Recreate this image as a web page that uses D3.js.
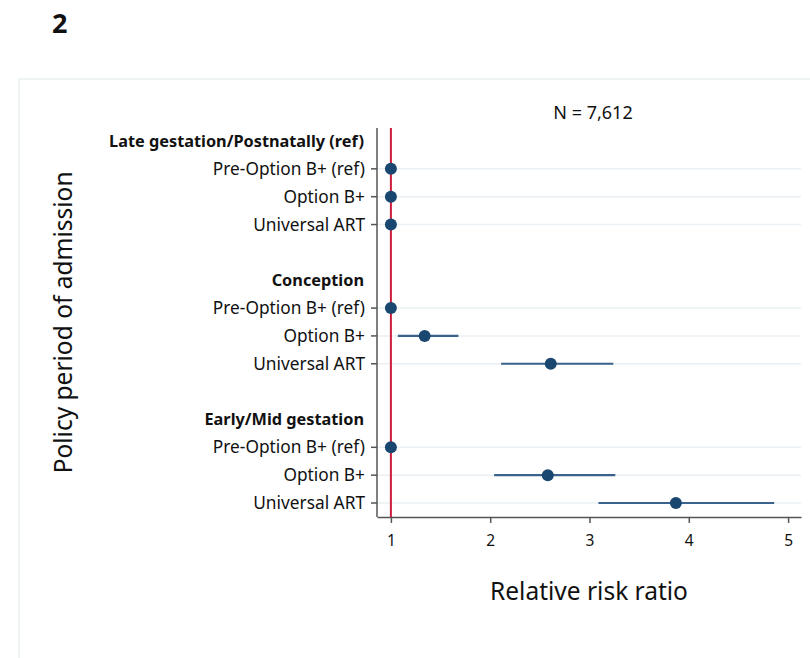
<!DOCTYPE html>
<html>
<head>
<meta charset="utf-8">
<script src="https://cdn.jsdelivr.net/npm/d3@7"></script>
<style>
  body { margin: 0; background: #fff; }
  text { font-family: "Noto Sans", "Open Sans", sans-serif; fill: #111; }
</style>
</head>
<body>
<script>
const width = 810, height = 658;

// rows from top to bottom; headers have no estimate
const rowLabels = [
  "Late gestation/Postnatally (ref)", "Pre-Option B+ (ref)", "Option B+", "Universal ART", "",
  "Conception", "Pre-Option B+ (ref)", "Option B+", "Universal ART", "",
  "Early/Mid gestation", "Pre-Option B+ (ref)", "Option B+", "Universal ART"
];
const headerRows = [0, 5, 10];
const itemRows = [1, 2, 3, 6, 7, 8, 11, 12, 13];
const rrr   = [1, 1, 1, 1, 1.34, 2.61, 1, 2.58, 3.87];
const lower = [1, 1, 1, 1, 1.07, 2.11, 1, 2.04, 3.09];
const upper = [1, 1, 1, 1, 1.68, 3.24, 1, 3.26, 4.86];
const xTicks = [1, 2, 3, 4, 5];
const nLabel = "N = 7,612";

const svg = d3.select("body").append("svg")
    .attr("width", width)
    .attr("height", height);

// panel frame
svg.append("rect")
    .attr("x", 19).attr("y", 79)
    .attr("width", 820).attr("height", 620)
    .attr("fill", "none")
    .attr("stroke", "#eef3f3")
    .attr("stroke-width", 2);

svg.append("text")
    .attr("x", 52).attr("y", 33)
    .style("font-size", "27px")
    .style("font-weight", "bold")
    .text("2");

const x = d3.scaleLinear().domain([0.86, 5.13]).range([377, 801]);
const y = d3.scaleLinear().domain([0, 13]).range([141, 503]);
const yTop = y(-0.47), yBottom = y(13.5);

// gridlines at item rows
svg.append("g").selectAll("line")
    .data(itemRows)
    .enter().append("line")
    .attr("x1", x.range()[0]).attr("x2", x.range()[1])
    .attr("y1", d => y(d)).attr("y2", d => y(d))
    .attr("stroke", "#eaf0f4")
    .attr("stroke-width", 1.5);

// x axis
const xAxis = svg.append("g")
    .attr("transform", `translate(0,${yBottom})`)
    .call(d3.axisBottom(x).tickValues(xTicks).tickSize(6).tickSizeOuter(0)
        .tickPadding(12).tickFormat(d3.format("d")));
xAxis.select(".domain").attr("stroke", "#555").attr("stroke-width", 1.5);
xAxis.selectAll(".tick line").attr("stroke", "#555").attr("stroke-width", 1.5);
xAxis.selectAll(".tick text")
    .style("font-family", "'Noto Sans', sans-serif")
    .style("font-size", "15.5px")
    .attr("fill", "#111");

// y axis line and ticks
svg.append("line")
    .attr("x1", x.range()[0]).attr("x2", x.range()[0])
    .attr("y1", yTop).attr("y2", yBottom)
    .attr("stroke", "#555").attr("stroke-width", 1.5);

svg.append("g").selectAll("line")
    .data(itemRows)
    .enter().append("line")
    .attr("x1", x.range()[0] - 6).attr("x2", x.range()[0])
    .attr("y1", d => y(d)).attr("y2", d => y(d))
    .attr("stroke", "#555").attr("stroke-width", 1.5);

// row labels
svg.append("g").selectAll("text")
    .data(rowLabels.map((t, i) => ({t, i})).filter(d => d.t !== ""))
    .enter().append("text")
    .attr("x", d => headerRows.includes(d.i) ? x.range()[0] - 13 : x.range()[0] - 12)
    .attr("y", d => y(d.i))
    .attr("dy", "0.35em")
    .attr("text-anchor", "end")
    .style("font-size", d => headerRows.includes(d.i) ? "16.3px" : "17.3px")
    .style("font-weight", d => headerRows.includes(d.i) ? "bold" : "normal")
    .text(d => d.t);

// reference line at 1
svg.append("line")
    .attr("x1", x(1)).attr("x2", x(1))
    .attr("y1", yTop).attr("y2", yBottom)
    .attr("stroke", "#d01c3c").attr("stroke-width", 2);

// confidence intervals
svg.append("g").selectAll("line")
    .data(itemRows.map((r, i) => ({r, i})).filter(d => upper[d.i] > lower[d.i]))
    .enter().append("line")
    .attr("x1", d => x(lower[d.i])).attr("x2", d => x(upper[d.i]))
    .attr("y1", d => y(d.r)).attr("y2", d => y(d.r))
    .attr("stroke", "#3a628d")
    .attr("stroke-width", 2.2);

// point estimates
svg.append("g").selectAll("circle")
    .data(itemRows.map((r, i) => ({r, i})))
    .enter().append("circle")
    .attr("cx", d => x(rrr[d.i]))
    .attr("cy", d => y(d.r))
    .attr("r", 6)
    .attr("fill", "#1a476f");

svg.append("text")
    .attr("x", (x.range()[0] + x.range()[1]) / 2 + 4)
    .attr("y", 119)
    .attr("text-anchor", "middle")
    .style("font-size", "18px")
    .text(nLabel);

svg.append("text")
    .attr("x", (x.range()[0] + x.range()[1]) / 2)
    .attr("y", 600)
    .attr("text-anchor", "middle")
    .style("font-size", "24.5px")
    .text("Relative risk ratio");

svg.append("text")
    .attr("transform", `translate(72,${(yTop + yBottom) / 2}) rotate(-90)`)
    .attr("text-anchor", "middle")
    .style("font-size", "24.5px")
    .text("Policy period of admission");
</script>
</body>
</html>
